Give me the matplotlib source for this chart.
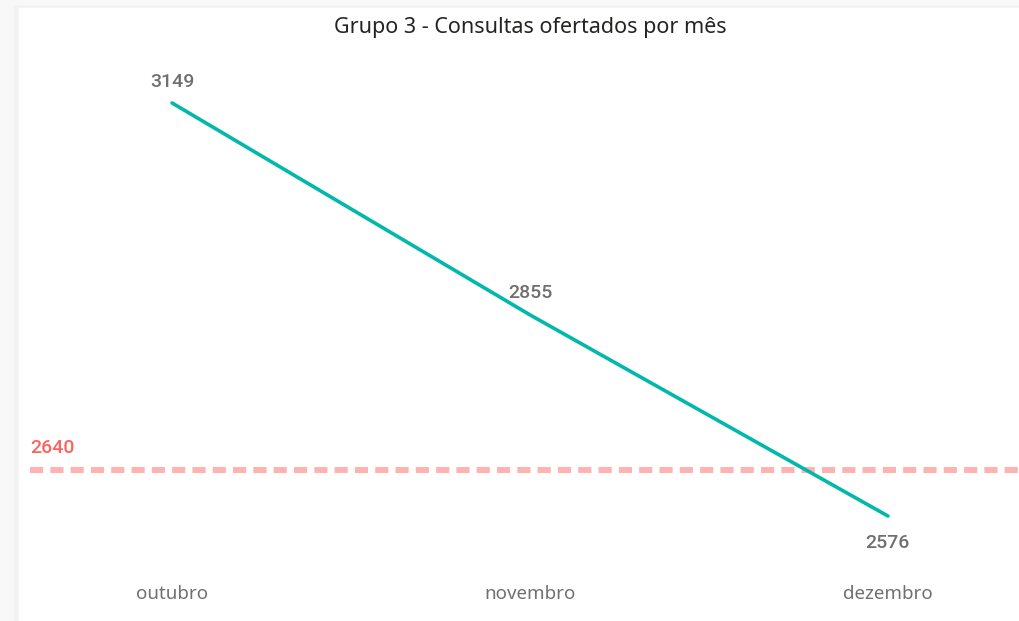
import matplotlib.pyplot as plt
from matplotlib.patches import Rectangle

# dados
meses = ['outubro', 'novembro', 'dezembro']
consultas = [3149, 2855, 2576]
meta = 2640

fig = plt.figure(figsize=(10.2, 6.21), dpi=100)
fig.patch.set_facecolor('#f8f8f8')

# sombra do cartão (esquerda e topo)
fig.patches.append(Rectangle((14 / 1020, 0), 1, 1 - 6 / 621, transform=fig.transFigure,
                             color='#f2f2f2', zorder=-2))
fig.patches.append(Rectangle((19 / 1020, 0), 1, 1 - 8 / 621, transform=fig.transFigure,
                             color='white', zorder=-1))

ax = fig.add_axes([30 / 1020, 1 - 570 / 621, 990 / 1020, 520 / 621])
ax.set_facecolor('none')

x = list(range(len(meses)))
ax.axhline(meta, color='#FFB3B1', lw=4.3, dashes=(2.2, 1.2),
           solid_capstyle='butt', dash_capstyle='butt', zorder=1)
ax.plot(x, consultas, color='#01B8AA', lw=2.6, solid_capstyle='round', zorder=2)

offsets = [21, 22, -27]
for xi, v, off in zip(x, consultas, offsets):
    ax.annotate(str(v), (xi, v), xytext=(0, off), textcoords='offset pixels',
                ha='center', va='center', fontsize=14, color='#6f6f6f',
                family='Roboto', fontweight='medium')

ax.annotate(str(meta), (0, meta), xycoords=('axes fraction', 'data'),
            xytext=(0, 22), textcoords='offset pixels', ha='left', va='center',
            fontsize=14, color='#FD625E', family='Roboto', fontweight='medium')

ax.set_xlim(-0.397, 2.369)
ax.set_ylim(2501.1, 3222.5)
ax.set_xticks(x)
ax.set_xticklabels(meses, fontsize=13.5, color='#707070', family='Noto Sans')
ax.tick_params(axis='x', length=0, pad=11)
ax.set_yticks([])
for s in ax.spines.values():
    s.set_visible(False)

fig.text(530 / 1020, 1 - 27 / 621, 'Grupo 3 - Consultas ofertados por mês',
         ha='center', va='center', fontsize=15.5, color='#252423', family='Noto Sans')

fig.savefig('out.png', dpi=100, facecolor=fig.get_facecolor())
